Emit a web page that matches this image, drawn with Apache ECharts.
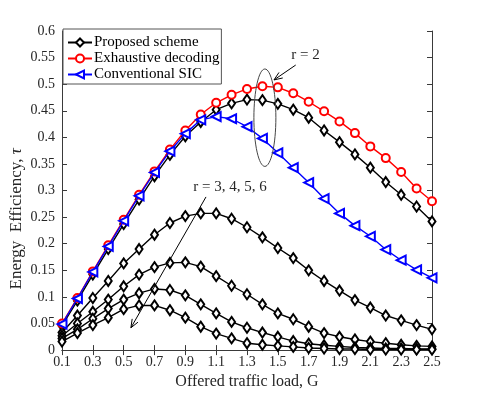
<!DOCTYPE html>
<html>
<head>
<meta charset="utf-8">
<script src="https://cdn.jsdelivr.net/npm/echarts@6/dist/echarts.min.js"></script>
<style>html,body{margin:0;padding:0;background:#fff;}#c{width:478px;height:395px;}</style>
</head>
<body>
<div id="c"></div>
<script>
const G = [0.1,0.2,0.3,0.4,0.5,0.6,0.7,0.8,0.9,1.0,1.1,1.2,1.3,1.4,1.5,1.6,1.7,1.8,1.9,2.0,2.1,2.2,2.3,2.4,2.5];
const exhaustive = [0.050,0.098,0.148,0.197,0.245,0.292,0.336,0.377,0.413,0.443,0.465,0.480,0.491,0.496,0.494,0.483,0.467,0.449,0.430,0.408,0.383,0.361,0.335,0.304,0.280];
const sic = [0.049,0.097,0.147,0.195,0.243,0.290,0.334,0.374,0.407,0.433,0.439,0.435,0.420,0.398,0.371,0.343,0.315,0.285,0.257,0.234,0.214,0.189,0.169,0.151,0.136];
const proposedR2 = [0.046,0.093,0.142,0.190,0.237,0.283,0.327,0.367,0.402,0.429,0.452,0.464,0.471,0.470,0.463,0.452,0.437,0.413,0.391,0.368,0.343,0.316,0.292,0.270,0.242];
const proposedR3 = [0.033,0.065,0.098,0.130,0.163,0.190,0.217,0.239,0.252,0.257,0.257,0.247,0.231,0.212,0.192,0.173,0.150,0.130,0.112,0.094,0.080,0.065,0.056,0.047,0.039];
const proposedR4 = [0.027,0.050,0.072,0.095,0.120,0.142,0.156,0.164,0.165,0.157,0.139,0.121,0.105,0.086,0.069,0.058,0.044,0.032,0.025,0.020,0.016,0.013,0.010,0.008,0.007];
const proposedR5 = [0.022,0.039,0.059,0.078,0.095,0.107,0.115,0.113,0.103,0.086,0.069,0.053,0.042,0.033,0.025,0.017,0.012,0.009,0.007,0.005,0.004,0.003,0.003,0.002,0.002];
const proposedR6 = [0.016,0.032,0.047,0.061,0.077,0.084,0.084,0.075,0.061,0.044,0.031,0.022,0.013,0.010,0.008,0.006,0.004,0.003,0.002,0.002,0.001,0.001,0.001,0.001,0.001];
const legendNames = ['Proposed scheme','Exhaustive decoding','Conventional SIC'];
const xLabel = 'Offered traffic load, G';
const yLabel = 'Energy  Efficiency, ';
const yLabelSym = 'τ';
const annR2 = 'r = 2';
const annRn = 'r = 3, 4, 5, 6';

(function(){
const FONT = 'Liberation Serif';
const AX = '#3a3a3a';
const TXT = '#262626';
const chart = echarts.init(document.getElementById('c'));
const pair = arr => G.map((g,i)=>[g,arr[i]]);

function blackSeries(arr){
  return {name: legendNames[0], type:'line', data: pair(arr), symbol:'emptyDiamond', symbolSize:[7,10],
    lineStyle:{color:'#000',width:1.4}, itemStyle:{color:'#000',borderWidth:1.3}, z:2};
}
const axisCommon = {
  axisLine:{show:true,lineStyle:{color:AX,width:1}},
  axisTick:{show:true,inside:true,length:5,lineStyle:{color:AX}},
  splitLine:{show:false}
};
chart.setOption({
  animation:false,
  grid:{left:62,right:46,top:31,bottom:44},
  legend:{
    data:legendNames, orient:'vertical', left:63, top:29,
    itemWidth:24, itemHeight:10, itemGap:1,
    padding:[6,2,2,4], borderColor:'#555', borderWidth:1, backgroundColor:'#fff',
    textStyle:{fontFamily:FONT,fontSize:15,lineHeight:15,color:'#000',padding:[0,0,0,-3]}
  },
  xAxis:[
    Object.assign({type:'value',min:0.1,max:2.5,interval:0.2,position:'bottom',
      name:xLabel,nameLocation:'middle',nameGap:22,
      nameTextStyle:{fontFamily:FONT,fontSize:16,color:TXT},
      axisLabel:{fontFamily:FONT,fontSize:14,color:TXT,margin:5,formatter:v=>v.toFixed(1)}},axisCommon),
    Object.assign({type:'value',min:0.1,max:2.5,interval:0.2,position:'top',axisLabel:{show:false}},axisCommon)
  ],
  yAxis:[
    Object.assign({type:'value',min:0,max:0.6,interval:0.05,position:'left',
      axisLabel:{fontFamily:FONT,fontSize:14,color:TXT,margin:7,formatter:v=>String(+v.toFixed(2))}},axisCommon),
    Object.assign({type:'value',min:0,max:0.6,interval:0.05,position:'right',axisLabel:{show:false}},axisCommon)
  ],
  series:[
    blackSeries(proposedR2), blackSeries(proposedR3), blackSeries(proposedR4), blackSeries(proposedR5), blackSeries(proposedR6),
    {name:legendNames[1],type:'line',data:pair(exhaustive),symbol:'emptyCircle',symbolSize:8,
      lineStyle:{color:'#ff0000',width:1.4},itemStyle:{color:'#ff0000',borderWidth:1.3},z:3},
    {name:legendNames[2],type:'line',data:pair(sic),symbol:'emptyTriangle',symbolSize:[9,9],symbolRotate:90,
      lineStyle:{color:'#0000ff',width:1.4},itemStyle:{color:'#0000ff',borderWidth:1.3},z:4}
  ]
});

function px(x,y){ return chart.convertToPixel({gridIndex:0},[x,y]); }
function arrow(from,to){
  const a = px(from[0],from[1]), b = px(to[0],to[1]);
  const ang = Math.atan2(b[1]-a[1], b[0]-a[0]);
  const L = 9, w = 0.38;
  const p1 = [b[0]-L*Math.cos(ang-w), b[1]-L*Math.sin(ang-w)];
  const p2 = [b[0]-L*Math.cos(ang+w), b[1]-L*Math.sin(ang+w)];
  return [
    {type:'line',shape:{x1:a[0],y1:a[1],x2:b[0],y2:b[1]},style:{stroke:'#000',lineWidth:1},z:10},
    {type:'polyline',shape:{points:[p1,b,p2]},style:{stroke:'#000',lineWidth:1,fill:null},z:10}
  ];
}
const ec = px(1.416,0.437);
const eTop = px(1.416,0.437+0.0916);
const eSide = px(1.416+0.0713,0.437);
const els = [
  {type:'ellipse',shape:{cx:ec[0],cy:ec[1],rx:eSide[0]-ec[0],ry:ec[1]-eTop[1]},style:{stroke:'#444',lineWidth:1,fill:null},z:10},
  ...arrow([1.616,0.536],[1.475,0.508]),
  ...arrow([1.034,0.288],[0.547,0.042])
];
const t1 = px(1.68,0.555), t2 = px(1.19,0.307);
els.push({type:'text',x:t1[0],y:t1[1],style:{text:annR2,fontFamily:FONT,fontSize:15,fill:TXT,align:'center',verticalAlign:'middle'},z:11});
els.push({type:'text',x:t2[0],y:t2[1],style:{text:annRn,fontFamily:FONT,fontSize:15,fill:TXT,align:'center',verticalAlign:'middle'},z:11});
// y-axis title, starting from its lower end
const yStart = px(0.1,0.114);
els.push({type:'text',x:17,y:yStart[1],rotation:Math.PI/2,
  style:{text:yLabel+'{i|'+yLabelSym+'}',fontFamily:FONT,fontSize:17,fill:TXT,align:'left',verticalAlign:'middle',
    rich:{i:{fontFamily:FONT,fontSize:17,fontStyle:'italic',fill:TXT}}},z:11});
chart.setOption({graphic:els});
})();
</script>
</body>
</html>
